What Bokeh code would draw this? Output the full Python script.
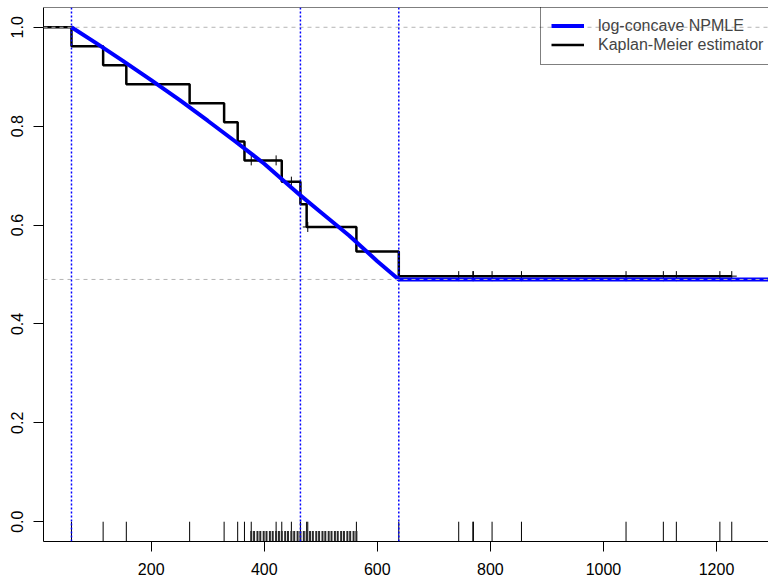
import numpy as np
from bokeh.plotting import figure
from bokeh.models import (Range1d, FixedTicker, PrintfTickFormatter, Span,
                          Legend, LegendItem)
from bokeh.embed import file_html
from bokeh.resources import INLINE

# ---- data (ovarian follow-up times) ----
obs_time = [59, 115, 156, 268, 329, 353, 365, 377, 421, 431, 448, 464, 475, 477,
            563, 638, 744, 769, 770, 803, 855, 1040, 1106, 1129, 1206, 1227]
cens_time = [377, 421, 448, 477, 744, 769, 770, 803, 855, 1040, 1106, 1129, 1206, 1227]

# Kaplan-Meier step curve
km_time = [0, 59, 115, 156, 268, 329, 353, 365, 431, 464, 475, 563, 638, 1227]
km_surv = [1.0, 0.9615, 0.9231, 0.8846, 0.8462, 0.8077, 0.7692, 0.7308,
           0.6878, 0.6419, 0.5961, 0.5464, 0.4967, 0.4967]

# log-concave NPMLE survival curve
npmle_x = [59, 100, 150, 200, 250, 300, 350, 400, 464, 500, 550, 600, 638, 1300]
npmle_s = [1.0, 0.970, 0.932, 0.893, 0.853, 0.811, 0.768, 0.724, 0.660,
           0.626, 0.579, 0.527, 0.490, 0.490]
knots = [59, 464, 638]
cure_level = 0.490
top_level = 1.0

# grid rug (short ticks)
grid_x = [377, 382, 388, 393, 399, 404, 410, 415, 421, 426, 431, 437, 442, 448,
          453, 459, 464, 470, 475, 481, 486, 492, 497, 503, 508, 514, 519, 525,
          530, 536, 541, 547, 552, 558, 563]

x_ticks = [200, 400, 600, 800, 1000, 1200]
y_ticks = [0.0, 0.2, 0.4, 0.6, 0.8, 1.0]

FONT = "Liberation Sans"

p = figure(width=768, height=580, x_range=Range1d(9.5, 1292),
           y_range=Range1d(-0.04, 1.04), output_backend="svg",
           toolbar_location=None, min_border_left=43, min_border_right=0,
           min_border_top=7, min_border_bottom=39)
p.outline_line_color = None
p.xgrid.visible = False
p.ygrid.visible = False
p.background_fill_color = "white"

for ax in (p.xaxis, p.yaxis):
    ax.axis_line_color = "black"
    ax.axis_line_width = 1
    ax.major_tick_line_color = "black"
    ax.major_tick_out = 10
    ax.major_tick_in = 0
    ax.minor_tick_line_color = None
    ax.major_label_text_font = FONT
    ax.major_label_text_font_size = "16px"
    ax.major_label_text_color = "black"

p.xaxis.ticker = FixedTicker(ticks=x_ticks)
p.yaxis.ticker = FixedTicker(ticks=y_ticks)
p.yaxis.formatter = PrintfTickFormatter(format="%.1f")
p.yaxis.major_label_orientation = "vertical"
p.xaxis.major_label_standoff = 11
p.yaxis.major_label_standoff = 10

# top frame border
p.add_layout(Span(location=1.04, dimension="width", line_color="black", line_width=1))

# rugs
p.segment(x0=obs_time, y0=[-0.04] * len(obs_time), x1=obs_time, y1=[0.0] * len(obs_time),
          line_color="black", line_width=1)
p.segment(x0=grid_x, y0=[-0.04] * len(grid_x), x1=grid_x, y1=[-0.019] * len(grid_x),
          line_color="#2a2a2a", line_width=2)

# Kaplan-Meier
r_km = p.step(km_time, km_surv, mode="after", line_color="black", line_width=2.5)
idx = np.searchsorted(km_time, cens_time, side="right") - 1
cens_surv = list(np.array(km_surv)[idx])
p.scatter(cens_time, cens_surv, marker="cross", size=10, line_color="black", line_width=1)

# NPMLE
r_np = p.line(npmle_x, npmle_s, line_color="#0000ff", line_width=4)

# reference lines
for lv in (top_level, cure_level):
    p.add_layout(Span(location=lv, dimension="width", line_color="#b4b4b4",
                      line_width=1, line_dash="4 4"))
for k in knots:
    p.add_layout(Span(location=k, dimension="height", line_color="#0000ff",
                      line_width=1.5, line_dash="2 2"))

legend = Legend(items=[LegendItem(label="log-concave NPMLE", renderers=[r_np]),
                       LegendItem(label="Kaplan-Meier estimator", renderers=[r_km])],
                location=(497, 476), border_line_color="black", border_line_width=1,
                background_fill_alpha=0, label_text_font=FONT,
                label_text_font_size="16px", glyph_width=33, glyph_height=19,
                label_height=19, label_standoff=14, padding=10, spacing=0, margin=0)
p.add_layout(legend)

open("out.html", "w").write(file_html(p, INLINE))
